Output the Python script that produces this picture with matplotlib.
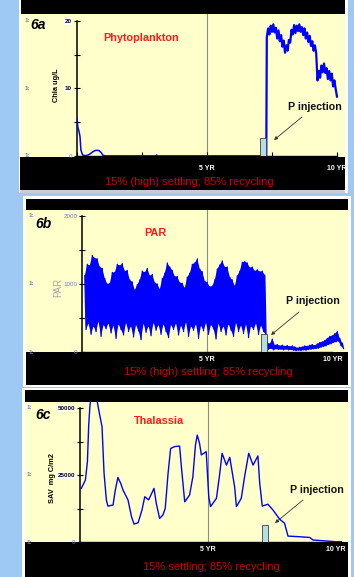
import matplotlib.pyplot as plt
import numpy as np
from matplotlib.patches import Rectangle

plt.rcParams['font.family'] = ['Liberation Sans', 'DejaVu Sans']

# ---------------- data ----------------
# 6a phytoplankton, Chla ug/L
phyto_years_early = [0.0, 0.03, 0.08, 0.115, 0.15, 0.19, 0.22, 0.3, 0.4, 0.5, 0.6, 0.69,
                     0.77, 0.85, 0.93, 1.0, 1.1, 3.05, 3.07, 3.09, 7.28]
phyto_early = [5.7, 4.3, 3.6, 2.9, 0.9, 0.4, 0.15, 0.05, 0.1, 0.3, 0.6, 0.8,
               0.85, 0.8, 0.5, 0.1, 0.02, 0.02, 0.15, 0.02, 0.02]
phyto_years_late = np.round(np.arange(7.30, 10.001, 0.05), 2)
phyto_late = [17.6, 18.9, 18.0, 19.3, 18.4, 19.5, 18.3, 19.0, 17.4, 18.6, 17.0, 17.9, 16.2, 17.1,
              15.3, 16.4, 15.6, 17.2, 16.8, 18.7, 18.0, 19.4, 18.2, 19.3, 18.5, 19.5, 18.4, 19.1,
              17.9, 18.9, 17.4, 18.3, 16.9, 17.8, 16.3, 17.0, 15.6, 16.4, 15.2, 11.2, 12.6, 11.6,
              13.4, 12.4, 13.7, 12.3, 13.0, 11.4, 12.6, 11.2, 12.2, 10.3, 11.2, 9.9, 8.8]

# 6b PAR: daily values swing between a high and a low envelope
par_hi_years = np.round(np.arange(0.10, 7.31, 0.1), 2)
par_hi = [1120, 1290, 1270, 1420, 1380, 1370, 1250, 1230, 1080, 1000,
          1010, 1170, 1170, 1290, 1270, 1300, 1190, 1200, 1060, 1030,
          910, 990, 1060, 1190, 1170, 1230, 1120, 1140, 1020, 1000,
          920, 1080, 1160, 1310, 1250, 1200, 1110, 1110, 1020, 1010,
          940, 1100, 1160, 1290, 1310, 1370, 1220, 1180, 1040, 1020,
          960, 970, 1060, 1220, 1280, 1340, 1250, 1250, 1100, 1060,
          970, 1120, 1190, 1320, 1330, 1310, 1240, 1250, 1190, 1210,
          1180, 1190, 1130]
par_lo_years = par_hi_years + 0.05
par_lo = [330, 420, 260, 380, 300, 450, 230, 400, 340, 420,
          280, 390, 200, 410, 330, 250, 430, 300, 380, 220,
          400, 310, 180, 420, 290, 380, 240, 430, 320, 400,
          260, 410, 300, 210, 400, 330, 420, 250, 390, 300,
          440, 230, 380, 320, 410, 200, 390, 310, 430, 260,
          400, 340, 190, 420, 300, 380, 250, 410, 320, 230,
          430, 300, 390, 270, 410, 210, 380, 330, 420, 260,
          390, 300, 250]
par_post_hi_years = np.round(np.arange(7.40, 10.41, 0.1), 2)
par_post_hi = [140, 120, 190, 100, 110, 90, 100, 85, 95, 80, 90, 75, 60, 70, 75, 90,
               85, 100, 110, 95, 120, 140, 150, 170, 200, 230, 240, 270, 300, 200, 130]
par_post_lo_years = par_post_hi_years + 0.05
par_post_lo = [40, 50, 30, 45, 35, 40, 30, 40, 30, 35, 25, 20, 25, 20, 30, 25,
               35, 40, 45, 50, 55, 70, 80, 90, 110, 120, 140, 150, 160, 90, 50]

# 6c Thalassia, SAV mg C/m2
thal_years = [0.05, 0.21, 0.29, 0.34, 0.39, 0.52, 0.70, 0.77, 0.86, 0.94, 1.03, 1.09, 1.29,
              1.38, 1.48, 1.59, 1.68, 1.875, 2.01, 2.11, 2.27, 2.42, 2.53, 2.68, 2.89, 2.98,
              3.11, 3.24, 3.33, 3.44, 3.54, 3.70, 3.89, 3.96, 4.09, 4.28, 4.41, 4.51, 4.58,
              4.67, 4.74, 4.93, 4.97, 5.03, 5.10, 5.33, 5.46, 5.55, 5.72, 5.85, 6.04, 6.11,
              6.30, 6.43, 6.59, 6.76, 6.95, 7.02, 7.12, 7.34, 7.54, 7.80, 7.99, 8.125, 8.52,
              8.97, 9.10, 10.01, 10.2]
thal = [20000, 23100, 30000, 43700, 51000, 60000, 51000, 47400, 43000, 25600, 15700, 13400,
        13800, 19400, 24100, 21900, 19400, 15700, 9500, 6700, 7200, 11900, 16900, 15700,
        20000, 14400, 8800, 10100, 12600, 25600, 34900, 35600, 35800, 28100, 15000, 17500,
        24400, 36200, 39900, 36800, 32500, 33700, 26900, 16900, 13200, 16300, 25600, 33100,
        28700, 31600, 20600, 13200, 16300, 24400, 33100, 28700, 32100, 21900, 13400, 14100,
        11900, 8500, 7000, 2200, 2000, 1700, 750, 100, 100]

# P injection bars: start year, end year, height
inject_a = (7.04, 7.27, 2.7)
inject_b = (7.16, 7.40, 260)
inject_c = (7.12, 7.34, 6200)

# ---------------- layout ----------------
W, H = 354, 577
BLUE = '#9ec9f5'
CREAM = '#ffffcc'
RED = '#ff1a1a'
DARKRED = '#cc0000'
LINE = '#0000ff'
TICKBLUE = '#7474d8'

fig = plt.figure(figsize=(W / 100, H / 100), dpi=100, facecolor=BLUE)


def rect(x0, y0, x1, y1, color):
    fig.add_artist(Rectangle((x0 / W, 1 - y1 / H), (x1 - x0) / W, (y1 - y0) / H,
                             transform=fig.transFigure, facecolor=color,
                             edgecolor='none', zorder=-5))


def ftext(x, y, s, **kw):
    fig.text(x / W, 1 - y / H, s, ha='center', va='center', **kw)


def make_axes(left, top, right, bottom):
    ax = fig.add_axes([left / W, 1 - bottom / H, (right - left) / W, (bottom - top) / H])
    ax.set_facecolor('none')
    return ax


def setup(ax, left, right, xmax, ymax, yticks, ylabels, styles, one_x, xtick_len, xpad):
    ax.set_xlim(0, xmax)
    ax.set_ylim(0, ymax)
    ax.spines['top'].set_visible(False)
    ax.spines['right'].set_visible(False)
    ax.spines['left'].set_bounds(0, yticks[-1])
    ax.spines['left'].set_linewidth(1.1)
    ax.spines['bottom'].set_bounds(0, 10)
    ax.spines['bottom'].set_linewidth(1.0)
    ax.set_yticks(yticks)
    ax.set_yticklabels(ylabels)
    ax.tick_params(axis='y', which='both', direction='inout', length=5, width=0.8,
                   labelsize=4.5, pad=1.2)
    for lab, (col, boxed) in zip(ax.get_yticklabels(), styles):
        lab.set_color(col)
        if boxed:
            lab.set_fontweight('bold')
            lab.set_bbox(dict(facecolor='white', edgecolor='none', pad=0.4))
    ax.set_xticks([0, 2.5, 5, 7.5, 10])
    ax.set_xticklabels(['', '', '5 YR', '', '10 YR'])
    ax.tick_params(axis='x', direction='in', length=xtick_len, width=0.8,
                   labelsize=5, labelcolor='white', pad=xpad)
    for lab in ax.get_xticklabels():
        lab.set_fontweight('bold')
    ax.axvline(5, color='#8c8c8c', lw=0.8, zorder=1)
    # STELLA "1:" scale markers on the far left
    xa = (one_x - left) / (right - left)
    for v in [yticks[0], yticks[2], yticks[4]]:
        ax.text(xa, v, '1:', transform=ax.get_yaxis_transform(), fontsize=4.5,
                fontweight='bold', color=TICKBLUE, ha='center', va='center')


def injection(ax, inj):
    ax.bar((inj[0] + inj[1]) / 2, inj[2], width=inj[1] - inj[0], color='#b4dde6',
           edgecolor='#404040', linewidth=0.6, zorder=4)


def arrow(x0, y0, x1, y1):
    fig.axes[0].annotate('', xy=(x1, H - y1), xytext=(x0, H - y0), xycoords='figure pixels',
                         textcoords='figure pixels',
                         arrowprops=dict(arrowstyle='-|>', color='#333333', lw=0.6,
                                         mutation_scale=5, shrinkA=0, shrinkB=0))


def band(ax, hi_t, hi, lo_t, lo):
    # solid body between the envelopes plus the day-to-day zigzag on top
    ax.fill(np.concatenate([hi_t, np.asarray(lo_t)[::-1]]),
            np.concatenate([hi, np.asarray(lo)[::-1]]), color=LINE, lw=0, zorder=3)
    t = np.empty(2 * len(hi))
    t[0::2] = hi_t
    t[1::2] = lo_t
    v = np.empty(2 * len(hi))
    v[0::2] = hi
    v[1::2] = lo
    ax.plot(t, v, color=LINE, lw=0.9, zorder=3)


# frames / strips
rect(19, 0, 348, 193, 'white')
rect(21, 0, 345, 14, 'black')
rect(21, 14, 345, 157, CREAM)
rect(20, 157, 345, 190, 'black')
rect(20, 190, 345, 193, '#c9ccd8')

rect(23, 196, 351, 387, 'white')
rect(26, 199, 348, 210, 'black')
rect(26, 210, 348, 352, CREAM)
rect(26, 352, 348, 385, 'black')

rect(22, 388, 351, 577, 'white')
rect(25, 390, 348, 402, 'black')
rect(25, 402, 348, 542, CREAM)
rect(25, 542, 348, 577, 'black')

# ---- 6a ----
ax1 = make_axes(77, 14, 345, 156)
setup(ax1, 77, 345, (345 - 77) / 26, 142 / 6.75, [0, 5, 10, 15, 20], ['0', '', '10', '', '20'],
      [(TICKBLUE, False), ('k', True), ('k', True), ('k', True), ('k', True)], 27, 3, 6.5)
ax1.plot(phyto_years_early, phyto_early, color=LINE, lw=1.1, zorder=3)
ax1.plot([phyto_years_early[-1]] + list(phyto_years_late), [phyto_early[-1]] + phyto_late,
         color=LINE, lw=1.6, zorder=3)
injection(ax1, inject_a)
ftext(38, 25, '6a', fontsize=10, fontweight='bold', fontstyle='italic')
ftext(141, 38, 'Phytoplankton', fontsize=7.8, fontweight='bold', color=RED)
ftext(56, 85, 'Chla ug/L', fontsize=5.3, fontweight='bold', rotation=90)
ftext(315, 107, 'P injection', fontsize=7.7, fontweight='bold', color='#111111')
arrow(302, 117, 274, 140)
ftext(189, 182, '15% (high) settling; 85% recycling', fontsize=8, color=DARKRED)

# ---- 6b ----
ax2 = make_axes(82.3, 210, 348, 352)
setup(ax2, 82.3, 348, (348 - 82.3) / 25, 142 / 0.068, [0, 500, 1000, 1500, 2000],
      ['0', '', '1000', '', '2000'], [(TICKBLUE, False)] * 5, 31, 0, 3)
band(ax2, par_hi_years, par_hi, par_lo_years, par_lo)
ax2.plot([par_lo_years[-1], par_post_hi_years[0]], [par_lo[-1], par_post_hi[0]],
         color=LINE, lw=0.9, zorder=3)
band(ax2, par_post_hi_years, par_post_hi, par_post_lo_years, par_post_lo)
injection(ax2, inject_b)
ftext(43.5, 224, '6b', fontsize=10, fontweight='bold', fontstyle='italic')
ftext(155, 233, 'PAR', fontsize=7.8, fontweight='bold', color=RED)
ftext(58, 287, 'PAR', fontsize=7, color='#a6a6a6', rotation=90)
ftext(313, 301, 'P injection', fontsize=7.7, fontweight='bold', color='#111111')
arrow(299, 312, 271, 335)
ftext(208, 372, '15% (high) settling; 85% recycling', fontsize=8, color=DARKRED)

# ---- 6c ----
ax3 = make_axes(80, 402, 348, 542)
setup(ax3, 80, 348, (348 - 80) / 25.6, 140 / 134 * 50000, [0, 12500, 25000, 37500, 50000],
      ['0', '', '25000', '', '50000'],
      [(TICKBLUE, False), ('k', True), ('k', True), ('k', True), ('k', True)], 29, 0, 3)
ax3.plot(thal_years, thal, color=LINE, lw=1.0, zorder=3)
injection(ax3, inject_c)
ftext(43, 415, '6c', fontsize=10, fontweight='bold', fontstyle='italic')
ftext(159, 421, 'Thalassia', fontsize=7.8, fontweight='bold', color=RED)
ftext(52, 478, 'SAV  mg C/m2', fontsize=5.3, fontweight='bold', rotation=90)
ftext(317, 490, 'P injection', fontsize=7.7, fontweight='bold', color='#111111')
arrow(303, 500, 275, 523)
ftext(211, 567, '15% settling; 85% recycling', fontsize=8, color=DARKRED)

fig.savefig('out.png', dpi=100, facecolor=BLUE)
